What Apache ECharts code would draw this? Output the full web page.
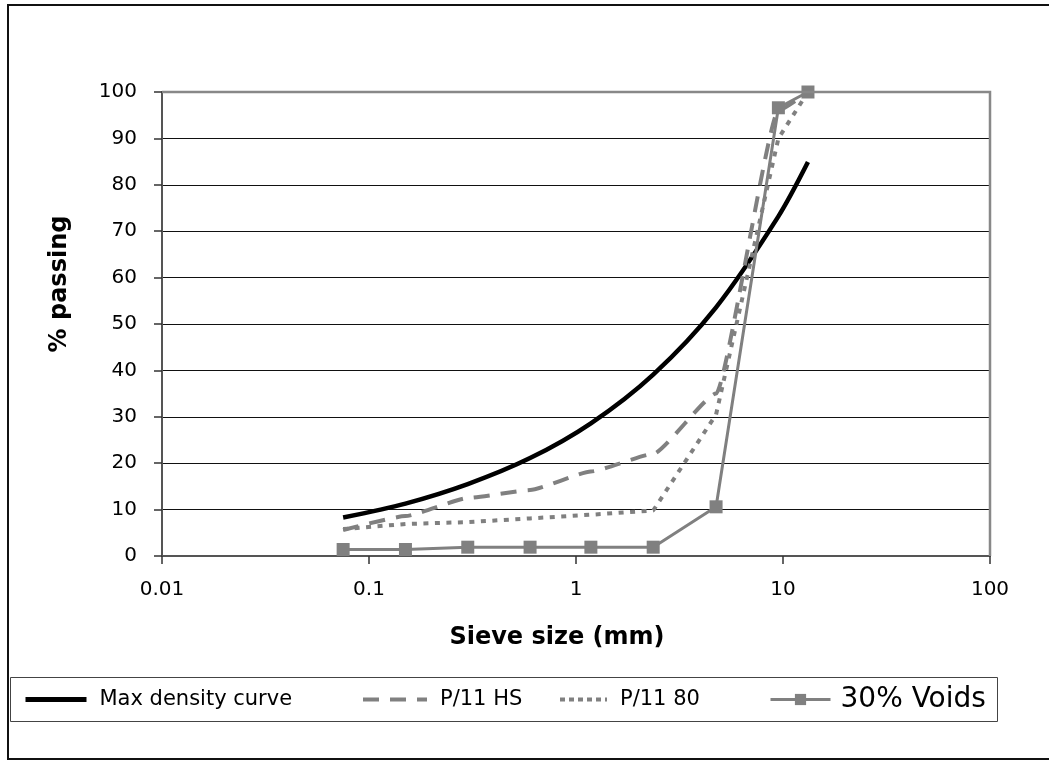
<!DOCTYPE html>
<html>
<head>
<meta charset="utf-8">
<title>Grading curves</title>
<script src="https://cdn.jsdelivr.net/npm/echarts@6/dist/echarts.min.js"></script>
<style>
  html, body { margin: 0; padding: 0; background: #fff; }
  #chart { width: 1049px; height: 761px; }
</style>
</head>
<body>
<div id="chart"></div>
<script>
// Sieve sizes (mm) and percentage passing for each grading
const sieveSizes = [0.075, 0.15, 0.3, 0.6, 1.18, 2.36, 4.75, 9.5, 13.2];
const maxDensity = [8.3, 11.3, 15.5, 21.1, 28.6, 39.1, 53.6, 73.2, 84.9];
const p11HS = [5.6, 8.6, 12.5, 14.2, 18.2, 22.0, 35.0, 96.0, 100];
const p1180 = [5.8, 6.9, 7.3, 8.1, 8.9, 9.8, 30.5, 90.0, 100];
const voids30 = [1.4, 1.4, 1.9, 1.9, 1.9, 1.9, 10.6, 96.6, 100];

const seriesNames = ['Max density curve', 'P/11 HS', 'P/11 80', '30% Voids'];
const xTickValues = [0.01, 0.1, 1, 10, 100];
const xTickLabels = ['0.01', '0.1', '1', '10', '100'];
const yTickStep = 10;

const FONT = 'DejaVu Sans, Verdana, sans-serif';
const GRID = { left: 162, top: 92, right: 59, bottom: 205 };
const W = 1049, H = 761;
const plotRight = W - GRID.right, plotBottom = H - GRID.bottom;

function pairs(ys) {
  return sieveSizes.map((x, i) => [x, ys[i]]);
}

const chart = echarts.init(document.getElementById('chart'), null, { renderer: 'canvas' });

const legendText = { fontFamily: FONT, fontSize: 21, color: '#000', lineHeight: 24, padding: [0, 0, 0, 8] };
const legendBase = { orient: 'horizontal', selectedMode: false, padding: 0, itemHeight: 14 };
// line-only legend keys: hide the default symbol drawn in the key
const lineOnlyKey = { itemStyle: { opacity: 0 } };

chart.setOption({
  animation: false,
  backgroundColor: '#fff',
  grid: {
    left: GRID.left, top: GRID.top, right: GRID.right, bottom: GRID.bottom,
    containLabel: false, outerBoundsMode: 'none', show: false
  },
  xAxis: {
    type: 'log', logBase: 10, min: xTickValues[0], max: xTickValues[xTickValues.length - 1],
    axisLine: { show: true, onZero: false, lineStyle: { color: '#555', width: 2 } },
    axisTick: { show: true, inside: false, length: 8, lineStyle: { color: '#333', width: 1.5 } },
    minorTick: { show: false },
    splitLine: { show: false },
    axisLabel: {
      margin: 24, fontFamily: FONT, fontSize: 20, color: '#000',
      formatter: function (v) {
        let best = 0;
        xTickValues.forEach((t, i) => {
          if (Math.abs(Math.log10(t) - Math.log10(v)) < Math.abs(Math.log10(xTickValues[best]) - Math.log10(v))) best = i;
        });
        return xTickLabels[best];
      }
    }
  },
  yAxis: {
    type: 'value', min: 0, max: 100, interval: yTickStep,
    axisLine: { show: true, lineStyle: { color: '#555', width: 2 } },
    axisTick: { show: true, inside: false, length: 8, lineStyle: { color: '#333', width: 1.5 } },
    splitLine: { show: true, lineStyle: { color: '#111', width: 1 } },
    axisLabel: { margin: 25, fontFamily: FONT, fontSize: 20, color: '#000' }
  },
  legend: [
    Object.assign({}, legendBase, lineOnlyKey, {
      data: [seriesNames[0]], left: 23, top: 687.5, itemWidth: 61, textStyle: legendText,
      lineStyle: { width: 5, color: '#000' }
    }),
    Object.assign({}, legendBase, lineOnlyKey, {
      data: [seriesNames[1]], left: 361, top: 687.5, itemWidth: 64, textStyle: legendText,
      lineStyle: { width: 4, color: '#808080', type: [16, 11], cap: 'butt' }
    }),
    Object.assign({}, legendBase, lineOnlyKey, {
      data: [seriesNames[2]], left: 558, top: 687.5, itemWidth: 47, textStyle: legendText,
      lineStyle: { width: 4, color: '#808080', type: [5, 4], cap: 'butt' }
    }),
    Object.assign({}, legendBase, {
      data: [seriesNames[3]], left: 769, top: 684, itemWidth: 60,
      lineStyle: { width: 3, color: '#808080' },
      textStyle: Object.assign({}, legendText, { fontSize: 28, lineHeight: 31, padding: [0, 0, 0, 5] })
    })
  ],
  graphic: [
    // outer chart frame
    { type: 'rect', z: 0, silent: true, shape: { x: 8, y: 5, width: 1100, height: 754 },
      style: { fill: null, stroke: '#111', lineWidth: 2 } },
    // legend frame
    { type: 'rect', z: 0, silent: true, shape: { x: 10.5, y: 677.5, width: 987, height: 44 },
      style: { fill: null, stroke: '#444', lineWidth: 1 } },
    // plot area border (top and right)
    { type: 'polyline', z: 50, silent: true,
      shape: { points: [[GRID.left, GRID.top], [plotRight, GRID.top], [plotRight, plotBottom]] },
      style: { fill: null, stroke: '#888', lineWidth: 2.5 } },
    // axis titles
    { type: 'text', z: 50, silent: true, x: 60, y: 284, rotation: Math.PI / 2,
      style: { text: '% passing', fontFamily: FONT, fontWeight: 'bold', fontSize: 24, fill: '#000',
               align: 'center', verticalAlign: 'middle' } },
    { type: 'text', z: 50, silent: true, x: 557, y: 638,
      style: { text: 'Sieve size (mm)', fontFamily: FONT, fontWeight: 'bold', fontSize: 24, fill: '#000',
               align: 'center', verticalAlign: 'middle' } }
  ],
  series: [
    {
      name: seriesNames[0], type: 'line', data: pairs(maxDensity),
      symbol: 'none', smooth: 0.3, color: '#000',
      lineStyle: { color: '#000', width: 4.5 }, z: 2
    },
    {
      name: seriesNames[1], type: 'line', data: pairs(p11HS),
      symbol: 'none', smooth: 0.15, smoothMonotone: 'x', color: '#808080',
      lineStyle: { color: '#808080', width: 4, type: [16, 11], cap: 'butt' }, z: 3
    },
    {
      name: seriesNames[2], type: 'line', data: pairs(p1180),
      symbol: 'none', color: '#808080',
      lineStyle: { color: '#808080', width: 4, type: [5, 6.5], cap: 'butt' }, z: 4
    },
    {
      name: seriesNames[3], type: 'line', data: pairs(voids30),
      symbol: 'rect', symbolSize: 13, showSymbol: true, color: '#808080',
      itemStyle: { color: '#808080' },
      lineStyle: { color: '#808080', width: 3 }, z: 5
    }
  ]
});
</script>
</body>
</html>
